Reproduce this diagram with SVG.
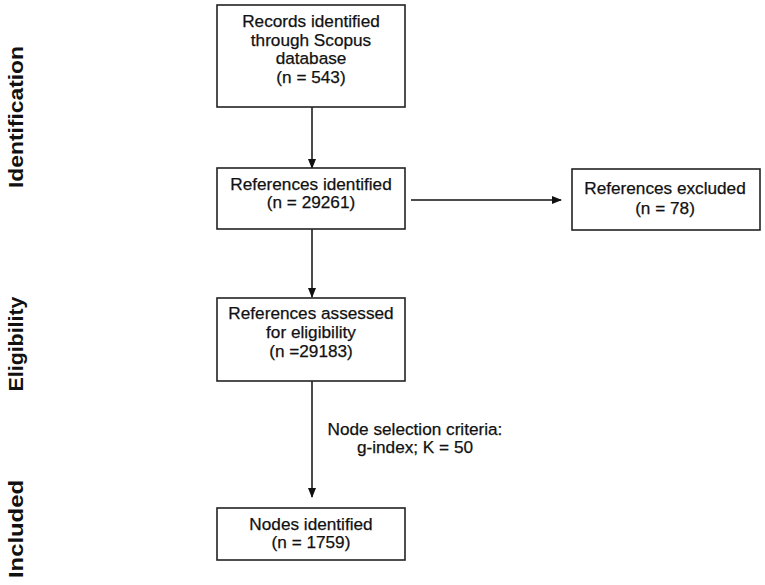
<svg xmlns="http://www.w3.org/2000/svg" width="765" height="585" viewBox="0 0 765 585">
<defs>
<marker id="ah" markerWidth="10" markerHeight="8" refX="9" refY="4" orient="auto" markerUnits="userSpaceOnUse">
<path d="M0,0 L10,4 L0,8 Z" fill="#111"/>
</marker>
<style>
.box{fill:#fff;stroke:#222;stroke-width:1.6}
.t{font-family:"Liberation Sans",Arial,sans-serif;font-size:17.2px;fill:#111;stroke:#111;stroke-width:0.25;text-anchor:middle}
.side{font-family:"Liberation Sans",Arial,sans-serif;font-size:20px;font-weight:bold;fill:#111;text-anchor:middle}
.c{stroke:#111;stroke-width:1.5;fill:none}
</style>
</defs>
<rect width="765" height="585" fill="#fff"/>
<g id="side-labels">
<text class="side" transform="translate(23,117) rotate(-90)" textLength="142" lengthAdjust="spacingAndGlyphs">Identification</text>
<text class="side" transform="translate(23,344) rotate(-90)" textLength="95" lengthAdjust="spacingAndGlyphs">Eligibility</text>
<text class="side" transform="translate(23,529) rotate(-90)" textLength="98" lengthAdjust="spacingAndGlyphs">Included</text>
</g>
<g id="connectors">
<line class="c" x1="312" y1="107" x2="312" y2="168" marker-end="url(#ah)"/>
<line class="c" x1="411" y1="200" x2="561" y2="200" marker-end="url(#ah)"/>
<line class="c" x1="312" y1="229" x2="312" y2="297" marker-end="url(#ah)"/>
<line class="c" x1="312" y1="381" x2="312" y2="497" marker-end="url(#ah)"/>
<text class="t" x="415" y="435">Node selection criteria:</text>
<text class="t" x="415" y="453">g-index; K = 50</text>
</g>
<g id="n1">
<rect class="box" x="217" y="5" width="188" height="102"/>
<text class="t" x="311" y="27">Records identified</text>
<text class="t" x="311" y="46">through Scopus</text>
<text class="t" x="311" y="64">database</text>
<text class="t" x="311" y="83">(n = 543)</text>
</g>
<g id="n2">
<rect class="box" x="217" y="168" width="188" height="61"/>
<text class="t" x="311" y="190">References identified</text>
<text class="t" x="311" y="208">(n = 29261)</text>
</g>
<g id="n3">
<rect class="box" x="572" y="169" width="188" height="61"/>
<text class="t" x="665" y="194">References excluded</text>
<text class="t" x="665" y="214">(n = 78)</text>
</g>
<g id="n4">
<rect class="box" x="217" y="298" width="188" height="83"/>
<text class="t" x="311" y="319">References assessed</text>
<text class="t" x="311" y="338">for eligibility</text>
<text class="t" x="311" y="357">(n =29183)</text>
</g>
<g id="n5">
<rect class="box" x="217" y="508" width="188" height="52"/>
<text class="t" x="311" y="530">Nodes identified</text>
<text class="t" x="311" y="548">(n = 1759)</text>
</g>
</svg>
